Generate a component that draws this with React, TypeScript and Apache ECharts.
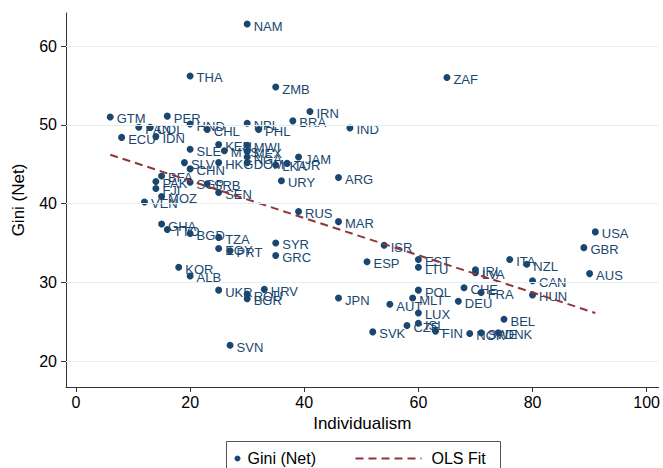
import React, { useEffect, useRef } from "react";
import * as echarts from "echarts";

const countries = [
  "NAM","THA","ZAF","ZMB","IRN","GTM","PER","HND","NPL","BRA","PAN","COL","IND","CHL","PHL","ECU","IDN",
  "KEN","MWI","SLE","MYS","MEX","NGA","JAM","SLV","HKG","DOM","TUR","LKA","CHN","BFA","ARG","URY","PAK",
  "SGP","SRB","FJI","SEN","MOZ","VEN","RUS","MAR","GHA","TTO","USA","BGD","TZA","SYR","ISR","GBR","EGY",
  "PRT","GRC","EST","ITA","ESP","NZL","LTU","KOR","IRL","LVA","AUS","ALB","CAN","CHE","HRV","POL","UKR",
  "FRA","ROU","HUN","MLT","JPN","BGR","DEU","AUT","LUX","BEL","ISL","CZE","FIN","SVK","DNK","SWE","NOR","SVN"
];
const individualism = [
  30,20,65,35,41,6,16,20,30,38,11,13,48,23,32,8,14,
  25,30,20,26,30,30,39,19,25,30,37,35,20,15,46,36,14,
  20,23,14,25,15,12,39,46,15,16,91,20,25,35,54,89,25,
  27,35,60,76,51,79,60,18,70,70,90,20,80,68,33,60,25,
  71,30,80,59,46,30,67,55,60,75,60,58,63,52,74,71,69,27
];
const giniNet = [
  62.8,56.2,56.0,54.8,51.7,51.0,51.1,50.1,50.2,50.5,49.7,49.7,49.6,49.4,49.4,48.4,48.5,
  47.5,47.4,46.9,46.7,46.6,45.9,45.9,45.2,45.2,45.2,45.1,44.9,44.4,43.5,43.3,42.9,42.8,
  42.7,42.5,41.9,41.4,40.9,40.2,39.0,37.7,37.4,36.7,36.4,36.2,35.7,35.0,34.7,34.4,34.3,
  34.0,33.4,32.9,32.9,32.6,32.3,31.9,31.9,31.6,31.2,31.1,30.8,30.2,29.3,29.1,29.0,29.0,
  28.7,28.5,28.4,28.0,28.0,27.9,27.6,27.2,26.1,25.3,24.8,24.5,23.8,23.7,23.6,23.6,23.5,22.0
];
const olsX = [6, 91];
const olsY = [46.2, 26.1];
const xTicks = [0, 20, 40, 60, 80, 100];
const yTicks = [20, 30, 40, 50, 60];

const NAVY = "#1a476f";
const MAROON = "#90353b";
const FONT = "Liberation Sans, Arial, Helvetica, sans-serif";

export default function App() {
  const ref = useRef<HTMLDivElement>(null);
  useEffect(() => {
    if (!ref.current) return;
    const chart = echarts.init(ref.current, undefined, { renderer: "svg" });
    const points = countries.map((c, i) => ({ name: c, value: [individualism[i], giniNet[i]] }));
    const ols = olsX.map((x, i) => [x, olsY[i]]);
    chart.setOption({
      animation: false,
      backgroundColor: "#ffffff",
      textStyle: { fontFamily: FONT },
      grid: { left: 66, right: 3, top: 13, bottom: 81, containLabel: false },
      xAxis: {
        type: "value",
        min: -1.75,
        max: 102.1,
        name: "Individualism",
        nameLocation: "middle",
        nameGap: 27,
        nameTextStyle: { fontSize: 17, color: "#000", fontFamily: FONT },
        axisLine: { show: true, onZero: false, lineStyle: { color: "#333", width: 1 } },
        axisTick: { show: true, length: 5, customValues: xTicks, lineStyle: { color: "#333" } },
        axisLabel: { customValues: xTicks, fontSize: 16, color: "#000", margin: 7, fontFamily: FONT },
        splitLine: { show: false },
      },
      yAxis: {
        type: "value",
        min: 16.7,
        max: 64.2,
        name: "Gini (Net)",
        nameLocation: "middle",
        nameGap: 39,
        nameRotate: 90,
        nameTextStyle: { fontSize: 17, color: "#000", fontFamily: FONT },
        axisLine: { show: true, onZero: false, lineStyle: { color: "#333", width: 1 } },
        axisTick: { show: true, length: 5, customValues: yTicks, lineStyle: { color: "#333" } },
        axisLabel: { customValues: yTicks, fontSize: 16, color: "#000", margin: 9, fontFamily: FONT },
        splitLine: { show: false },
      },
      series: [
        {
          name: "grid",
          type: "line",
          data: [],
          z: 1,
          silent: true,
          markLine: {
            silent: true,
            symbol: "none",
            label: { show: false },
            lineStyle: { color: "#e4edf0", width: 1.2, type: "solid" },
            emphasis: { disabled: true },
            data: yTicks.map((v) => ({ yAxis: v })),
          },
        },
        {
          name: "Gini (Net)",
          type: "scatter",
          z: 3,
          symbol: "circle",
          symbolSize: 7,
          itemStyle: { color: NAVY, opacity: 1 },
          label: {
            show: true,
            position: "right",
            distance: 3,
            offset: [0, 2],
            formatter: "{b}",
            color: NAVY,
            fontSize: 13,
            fontFamily: FONT,
          },
          data: points,
        },
        {
          name: "OLS Fit",
          type: "line",
          z: 4,
          symbol: "none",
          showSymbol: false,
          lineStyle: { color: MAROON, width: 2, type: [8, 5] },
          data: ols,
        },
      ],
      graphic: [
        {
          type: "group",
          left: 226,
          top: 441,
          children: [
            { type: "rect", shape: { x: 0, y: 0, width: 274, height: 40 }, style: { fill: "#fff", stroke: "#555", lineWidth: 1 } },
            { type: "circle", shape: { cx: 11, cy: 17, r: 3 }, style: { fill: NAVY } },
            { type: "text", x: 21, y: 17, style: { text: "Gini (Net)", fontSize: 16, fontFamily: FONT, fill: "#000", verticalAlign: "middle" } },
            { type: "line", shape: { x1: 129, y1: 17, x2: 195, y2: 17 }, style: { stroke: MAROON, lineWidth: 2, lineDash: [8, 5] } },
            { type: "text", x: 205, y: 17, style: { text: "OLS Fit", fontSize: 16, fontFamily: FONT, fill: "#000", verticalAlign: "middle" } },
          ],
        },
      ],
    });
    return () => chart.dispose();
  }, []);
  return (
    <div
      ref={ref}
      style={{ position: "fixed", left: 0, top: 0, width: 663, height: 468, background: "#fff" }}
    />
  );
}
